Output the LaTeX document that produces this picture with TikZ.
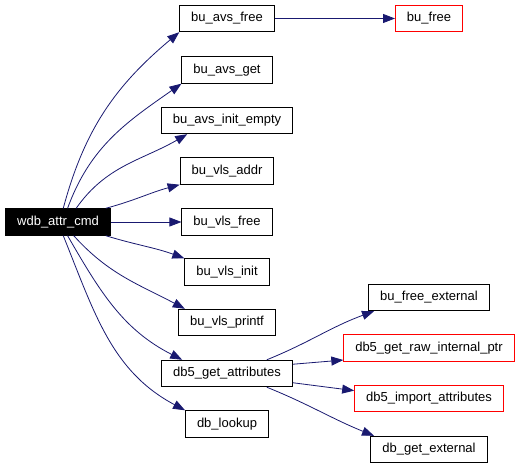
\documentclass[tikz,border=0pt]{standalone}
\usepackage{fontspec}
\setmainfont{Liberation Sans}
\usetikzlibrary{arrows.meta}
\definecolor{callblue}{HTML}{191970}
\begin{document}
\begin{tikzpicture}[x=1pt, y=1pt, >={Triangle[length=12pt,width=9pt]},
  fnbox/.style={draw=black, line width=0.9pt, inner xsep=11.5pt, minimum height=26.5pt, font=\fontsize{13}{15}\selectfont},
  missbox/.style={fnbox, draw=red},
  rootbox/.style={fnbox, fill=black, text=white},
  callarrow/.style={->, draw=callblue, line width=0.8pt}]
\useasboundingbox (0,0) rectangle (520,468);
\node[rootbox] (wdb) at (58,246) {wdb\_attr\_cmd};
\foreach \n/\t/\y in {avsfree/bu\_avs\_free/449.5, avsget/bu\_avs\_get/398, avsinit/bu\_avs\_init\_empty/347.5,
  vlsaddr/bu\_vls\_addr/297, vlsfree/bu\_vls\_free/246, vlsinit/bu\_vls\_init/196,
  vlsprintf/bu\_vls\_printf/145.5, getattr/db5\_get\_attributes/94.5, lookup/db\_lookup/44}
{
    \node[fnbox] (\n) at (227,\y) {\t};
}
\node[missbox] (bufree) at (429,449.5) {bu\_free};
\node[fnbox] (freeext) at (429,170.5) {bu\_free\_external};
\node[missbox] (rawptr) at (429,120) {db5\_get\_raw\_internal\_ptr};
\node[missbox] (importattr) at (429,69.5) {db5\_import\_attributes};
\node[fnbox] (getext) at (429,18.5) {db\_get\_external};
% calls of wdb_attr_cmd
\foreach \s/\o/\t/\a/\i in {69/75/avsfree/south west/220, 55/70/avsget/south west/215, 37/55/avsinit/199/210,
  16/15/vlsaddr/south west/195, -16/-17/vlsinit/north west/160, -41/-48/vlsprintf/162/152,
  -55/-60/getattr/163/153, -69/-68/lookup/north west/152}
{
    \draw[callarrow] (wdb.\s) to[out=\o, in=\i] (\t.\a);
}
\draw[callarrow] (wdb) -- (vlsfree);
\draw[callarrow] (avsfree) -- (bufree);
% calls of db5_get_attributes
\draw[callarrow] (getattr.19) to[out=22, in=200] (freeext.194);
\draw[callarrow] (getattr.8) -- (rawptr.188);
\draw[callarrow] (getattr.-8) -- (importattr.174);
\draw[callarrow] (getattr.-19) to[out=-22, in=158] (getext.166);
\end{tikzpicture}
\end{document}
